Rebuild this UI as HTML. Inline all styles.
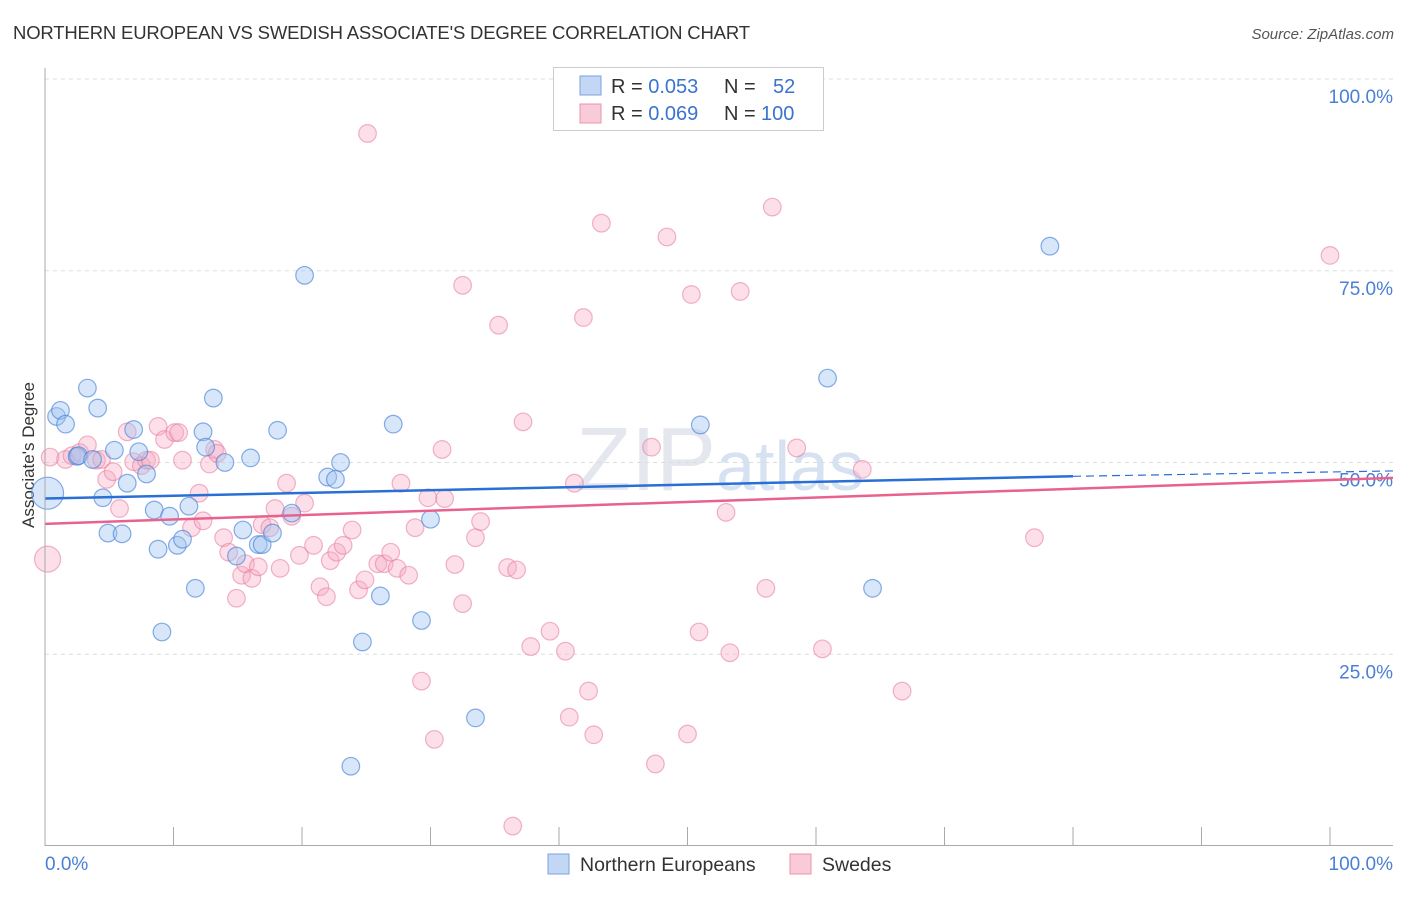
<!DOCTYPE html>
<html><head><meta charset="utf-8"><style>
body{margin:0;background:#fff;font-family:"Liberation Sans",sans-serif;}
svg text{font-family:"Liberation Sans",sans-serif;}
</style></head><body>
<svg id="c" width="1406" height="892">
<text x="13" y="39" font-size="18.5" fill="#333" textLength="737">NORTHERN EUROPEAN VS SWEDISH ASSOCIATE'S DEGREE CORRELATION CHART</text>
<text x="1394" y="39" font-size="15" fill="#555" font-style="italic" text-anchor="end">Source: ZipAtlas.com</text>
<text x="34" y="455" font-size="17" fill="#333" text-anchor="middle" transform="rotate(-90 34 455)">Associate's Degree</text>
<text x="720" y="490" font-size="90" fill="#e4e8ee" text-anchor="middle" font-family="Liberation Serif">ZIP<tspan fill="#d6e2f2" font-family="Liberation Sans" font-size="70">atlas</tspan></text>
<g id="grid"></g><g id="pts"></g><g id="lines"></g>
<line x1="45" y1="68" x2="45" y2="846" stroke="#aaa"/>
<line x1="45" y1="845.5" x2="1393" y2="845.5" stroke="#aaa"/>
<text x="45" y="870" font-size="19" fill="#4a7fd6">0.0%</text>
<text x="1393" y="870" font-size="19" fill="#4a7fd6" text-anchor="end">100.0%</text>
<g>
<rect x="553.5" y="67.5" width="270" height="63" fill="#fff" stroke="#ccc"/>
<rect x="580" y="76" width="21" height="19" fill="#c3d7f5" stroke="#7aa3e0"/>
<rect x="580" y="104" width="21" height="19" fill="#f9cad8" stroke="#eb94ae"/>
<text x="611" y="93" font-size="20" fill="#333">R = <tspan fill="#3a73d0">0.053</tspan><tspan x="724">N =</tspan><tspan fill="#3a73d0" x="773">52</tspan></text>
<text x="611" y="120" font-size="20" fill="#333">R = <tspan fill="#3a73d0">0.069</tspan><tspan x="724">N =</tspan><tspan fill="#3a73d0" x="761">100</tspan></text>
</g>
<g>
<rect x="548" y="854" width="21" height="20" fill="#c3d7f5" stroke="#7aa3e0"/>
<text x="580" y="871" font-size="19.5" fill="#333">Northern Europeans</text>
<rect x="790" y="854" width="21" height="20" fill="#f9cad8" stroke="#eb94ae"/>
<text x="822" y="871" font-size="19.5" fill="#333">Swedes</text>
</g>
</svg>
<script>
const yTicks=[25,50,75,100];
const xTicks=[0,10,20,30,40,50,60,70,80,90,100];
const blueX=[0.2,0.9,1.2,1.6,3.3,4.1,4.5,4.9,5.4,6.0,6.4,6.9,7.3,7.9,8.5,8.8,9.1,9.7,10.3,10.7,11.2,11.7,12.3,12.5,13.1,14.0,14.9,15.4,16.0,16.6,16.9,17.7,18.1,19.2,20.2,22.0,22.6,23.0,23.8,24.7,26.1,27.1,29.3,30.0,33.5,51.0,60.9,64.4,78.2,2.5,2.6,3.7];
const blueY=[46.0,56.0,56.8,55.0,59.7,57.1,45.4,40.8,51.6,40.7,47.3,54.3,51.4,48.5,43.8,38.7,27.9,43.0,39.2,40.0,44.3,33.6,54.0,52.0,58.4,50.0,37.8,41.2,50.6,39.3,39.3,40.8,54.2,43.4,74.4,48.1,47.8,50.0,10.4,26.6,32.6,55.0,29.4,42.6,16.7,54.9,61.0,33.6,78.2,50.8,50.9,50.4];
const pinkX=[0.2,0.4,1.6,2.1,2.7,3.3,4.0,4.4,4.8,5.3,5.8,6.4,6.9,7.5,7.9,8.2,8.8,9.3,10.1,10.4,10.7,11.4,12.0,12.3,12.8,13.2,13.4,13.9,14.3,14.9,15.3,15.6,16.1,16.6,16.9,17.5,17.9,18.3,18.8,19.2,19.8,20.2,20.9,21.4,21.9,22.2,22.7,23.2,23.9,24.4,24.9,25.1,25.9,26.4,26.9,27.4,27.7,28.3,28.8,29.3,29.8,30.3,30.9,31.1,31.9,32.5,32.5,33.5,33.9,35.3,36.0,36.4,36.7,37.2,37.8,39.3,40.5,40.8,41.2,41.9,42.3,42.7,43.3,47.2,47.5,48.4,50.0,50.3,50.9,53.0,53.3,54.1,56.1,56.6,58.5,60.5,63.6,66.7,77.0,100.0];
const pinkY=[37.4,50.7,50.4,50.9,51.3,52.3,50.3,50.4,47.8,48.8,44.0,54.0,50.1,49.6,50.3,50.3,54.7,53.0,53.9,53.9,50.3,41.5,46.0,42.4,49.8,51.7,51.2,40.2,38.3,32.3,35.3,36.8,34.9,36.4,41.9,41.5,44.0,36.2,47.3,43.0,37.9,44.7,39.2,33.8,32.5,37.2,38.3,39.2,41.2,33.4,34.7,92.9,36.8,36.8,38.3,36.2,47.3,35.3,41.5,21.5,45.4,13.9,51.7,45.3,36.7,31.6,73.1,40.2,42.3,67.9,36.3,2.6,36.0,55.3,26.0,28.0,25.4,16.8,47.3,68.9,20.2,14.5,81.2,52.0,10.7,79.4,14.6,71.9,27.9,43.5,25.2,72.3,33.6,83.3,51.9,25.7,49.1,20.2,40.2,77.0,92.2];
const line={blue:[45.3,48.2,48.9],pink:[42.0,48.0]};
const X=v=>45+v*12.85, Y=v=>846-v*7.67;
const ns='http://www.w3.org/2000/svg';
function mk(p,t,a){const e=document.createElementNS(ns,t);for(const k in a)e.setAttribute(k,a[k]);p.appendChild(e);return e;}
const g=document.getElementById('grid');
yTicks.forEach(t=>{
 const l=mk(g,'line',{x1:45,x2:1393,y1:Y(t),y2:Y(t),stroke:'#ddd','stroke-dasharray':'4,4'});
 
 
 const tx=mk(g,'text',{x:1393,y:Y(t)+24,'font-size':19,fill:'#4a7fd6','text-anchor':'end'});
 tx.textContent=t.toFixed(1)+'%';
 
 
});
xTicks.forEach(t=>{
 const l=mk(g,'line',{x1:X(t),x2:X(t),y1:827,y2:846,stroke:'#aaa'});
 
 
});
const pg=document.getElementById('pts');
pinkX.forEach((x,i)=>{
 const c=mk(pg,'circle',{cx:X(x),cy:Y(pinkY[i]),r:i==0?13:8.8,fill:'rgba(246,170,195,0.38)',stroke:'rgba(230,120,155,0.55)','stroke-width':1.2});
 
 
});
blueX.forEach((x,i)=>{
 const c=mk(pg,'circle',{cx:X(x),cy:Y(blueY[i]),r:i==0?16:8.8,fill:'rgba(160,195,240,0.42)',stroke:'rgba(70,130,215,0.65)','stroke-width':1.2});
 
 
});
const lg=document.getElementById('lines');
let l=mk(lg,'line',{x1:X(0),y1:Y(line.blue[0]),x2:X(80),y2:Y(line.blue[1]),stroke:'#2a6fd6','stroke-width':2.5});


l=mk(lg,'line',{x1:X(80),y1:Y(line.blue[1]),x2:1393,y2:Y(line.blue[2]),stroke:'#2a6fd6','stroke-width':1.2,'stroke-dasharray':'8,5'});


l=mk(lg,'line',{x1:X(0),y1:Y(line.pink[0]),x2:1393,y2:Y(line.pink[1]),stroke:'#e8628d','stroke-width':2.5});


</script>
</body></html>
